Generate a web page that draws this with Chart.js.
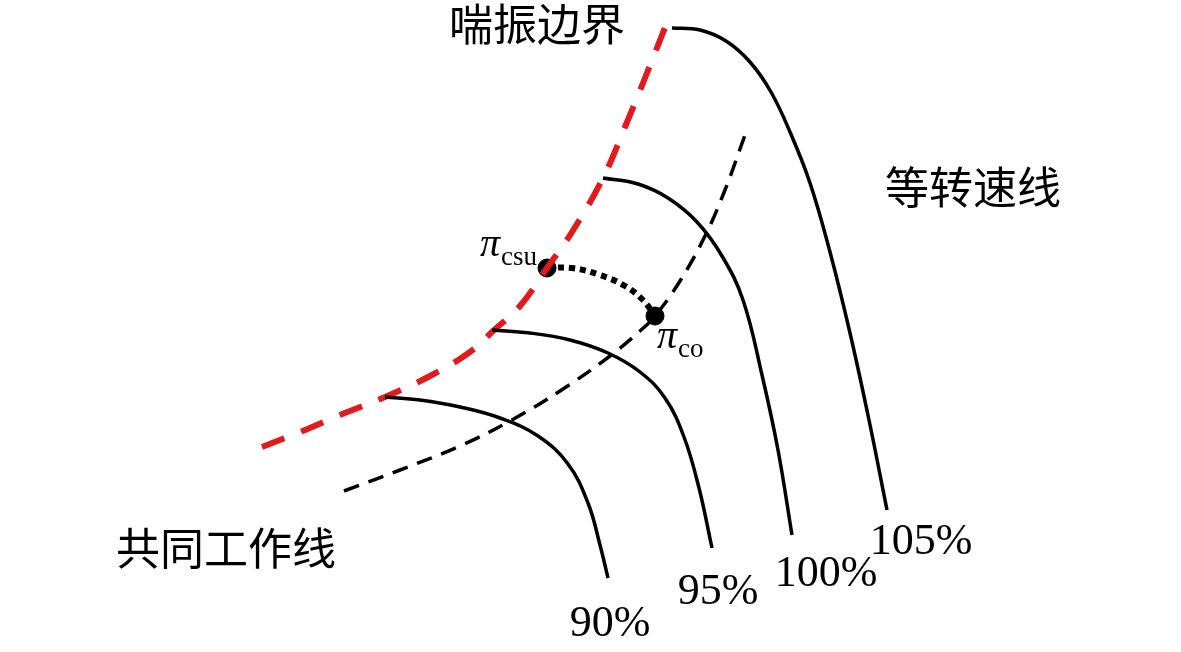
<!DOCTYPE html>
<html>
<head>
<meta charset="utf-8">
<script src="https://cdn.jsdelivr.net/npm/chart.js@4/dist/chart.umd.min.js"></script>
<style>
  html, body { margin: 0; padding: 0; background: #fff; overflow: hidden; }
  #wrap { width: 1181px; height: 652px; position: relative; }
</style>
</head>
<body>
<div id="wrap"><canvas id="map"></canvas></div>
<script>
// points (x right, y down, same frame as the image)
const surgeLine = [[262,447],[300,432],[340,415],[385,397],[430,376],[470,352],[493,331],[520,306],[547,268],[572,232],[603,178],[625,127],[645,78],[668,20]]
const workingLine = [[344,491],[400,470],[460,446],[510,421],[560,391],[610,356],[640,331],[655,316],[680,281],[705,236],[725,190],[745,135]]
const speed90 = [[385,397],[420,400],[460,407],[500,418],[538,436],[568,464],[588,503],[600,545],[608,578]]
const speed95 = [[492,330],[530,333],[570,340],[608,353],[640,372],[665,398],[684,437],[699,488],[712,548]]
const speed100 = [[603,178],[638,184],[668,198],[697,222],[722,256],[743,300],[762,375],[778,450],[792,535]]
const speed105 = [[672,28],[700,30],[726,41],[750,62],[771,92],[790,132],[810,183],[830,252],[850,333],[869,420],[887,510]]
const transition = [[547,268],[572,268],[600,275],[625,286],[643,300],[655,316]]
const operatingPoints = [[547,268],[655,316]]

const textLabels = [
  { text: "喘振边界", at: [537,24], kind: "cjk" },
  { text: "等转速线", at: [973,187], kind: "cjk" },
  { text: "共同工作线", at: [226,548], kind: "cjk" },
  { text: "90%", at: [610,624], kind: "num" },
  { text: "95%", at: [718,592], kind: "num" },
  { text: "100%", at: [826,574], kind: "num" },
  { text: "105%", at: [921,542], kind: "num" }
]
const piLabels = [
  { sub: "csu", at: [480,256] },
  { sub: "co", at: [657,348] }
]

const pts = arr => arr.map(p => ({ x: p[0], y: p[1] }))

const curve = (data, color, width, dash) => ({
  data: pts(data),
  showLine: true,
  borderColor: color,
  borderWidth: width,
  borderDash: dash,
  borderCapStyle: "butt",
  pointRadius: 0,
  tension: 0.4,
  fill: false
})

const textPlugin = {
  id: "mapText",
  afterDatasetsDraw(chart) {
    const ctx = chart.ctx
    const sx = chart.scales.x, sy = chart.scales.y
    ctx.save()
    ctx.fillStyle = "#000"
    textLabels.forEach(l => {
      ctx.font = l.kind === "cjk" ? "44px 'Noto Sans CJK SC'" : "44px 'Liberation Serif'"
      ctx.textAlign = "center"
      ctx.textBaseline = "middle"
      ctx.fillText(l.text, sx.getPixelForValue(l.at[0]), sy.getPixelForValue(l.at[1]))
    })
    piLabels.forEach(l => {
      const x = sx.getPixelForValue(l.at[0]), y = sy.getPixelForValue(l.at[1])
      ctx.textAlign = "left"
      ctx.textBaseline = "alphabetic"
      ctx.font = "italic 40px 'Liberation Serif'"
      ctx.fillText("π", x, y)
      const w = ctx.measureText("π").width
      ctx.font = "27px 'Liberation Serif'"
      ctx.fillText(l.sub, x + w + 1, y + 9)
    })
    ctx.restore()
  }
}

new Chart(document.getElementById("map"), {
  type: "scatter",
  data: {
    datasets: [
      curve(workingLine, "#000", 3.5, [16, 10]),
      curve(speed90, "#000", 3.5, []),
      curve(speed95, "#000", 3.5, []),
      curve(speed100, "#000", 3.5, []),
      curve(speed105, "#000", 3.5, []),
      curve(surgeLine, "#e3191c", 6, [24, 18]),
      curve(transition, "#000", 6, [6, 5]),
      {
        data: pts(operatingPoints),
        pointRadius: 9,
        pointBackgroundColor: "#000",
        pointBorderColor: "#000",
        showLine: false
      }
    ]
  },
  options: {
    responsive: true,
    maintainAspectRatio: false,
    animation: false,
    layout: { padding: 0, autoPadding: false },
    plugins: {
      legend: { display: false },
      tooltip: { enabled: false }
    },
    scales: {
      x: { type: "linear", min: 0, max: 1181, display: false },
      y: { type: "linear", min: 0, max: 652, reverse: true, display: false }
    }
  },
  plugins: [textPlugin]
})
</script>
</body>
</html>
